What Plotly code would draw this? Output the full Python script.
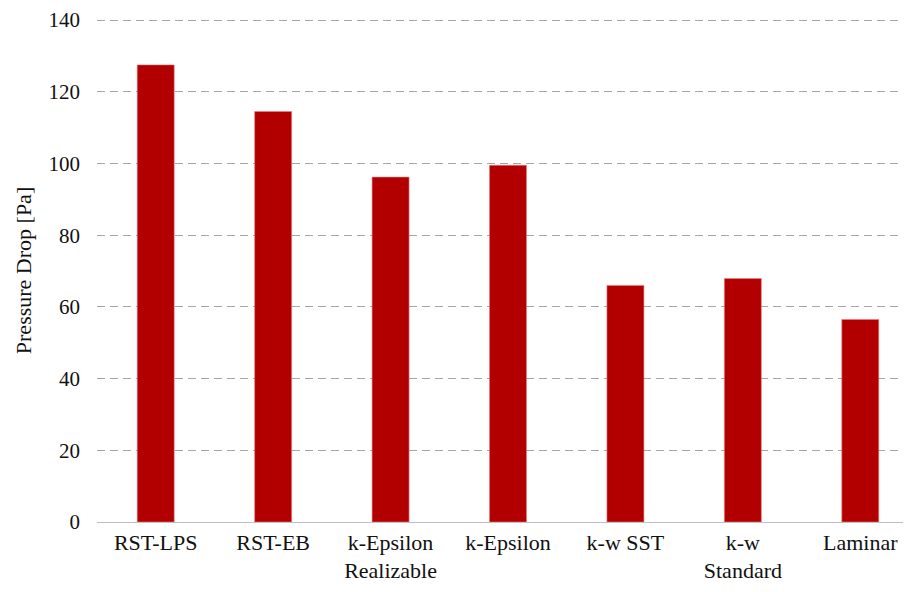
import plotly.graph_objects as go

categories = ["RST-LPS", "RST-EB", "k-Epsilon<br>Realizable", "k-Epsilon", "k-w SST", "k-w<br>Standard", "Laminar"]
pressure_drop = [127.5, 114.5, 96.2, 99.5, 66.0, 67.9, 56.5]
y_ticks = [0, 20, 40, 60, 80, 100, 120, 140]

font_family = "'Times New Roman', 'Liberation Serif', 'DejaVu Serif', serif"
text_color = "#111111"

fig = go.Figure(
    go.Bar(
        x=categories,
        y=pressure_drop,
        marker=dict(color="#B20000", line=dict(color="#E88080", width=0.6)),
        width=0.315,
    )
)

fig.update_layout(
    width=911,
    height=592,
    margin=dict(l=89, r=0, t=11, b=78),
    plot_bgcolor="white",
    paper_bgcolor="white",
    font=dict(family=font_family, size=21, color=text_color),
    showlegend=False,
)

fig.update_xaxes(
    range=[-0.5, 6.5],
    showline=True,
    linecolor="#BFBFBF",
    linewidth=1.3,
    showgrid=False,
    ticks="",
    tickfont=dict(family=font_family, size=22, color=text_color),
)

fig.update_yaxes(
    range=[0, 140.3],
    tickvals=y_ticks,
    showgrid=True,
    gridcolor="#A6A6A6",
    gridwidth=1.3,
    griddash="8px,5px",
    zeroline=False,
    showline=False,
    ticks="",
    ticklabelstandoff=16,
    tickfont=dict(family=font_family, size=21, color=text_color),
    title=dict(text="Pressure Drop [Pa]", font=dict(family=font_family, size=22, color=text_color), standoff=10),
)

fig.write_html("out.html")
